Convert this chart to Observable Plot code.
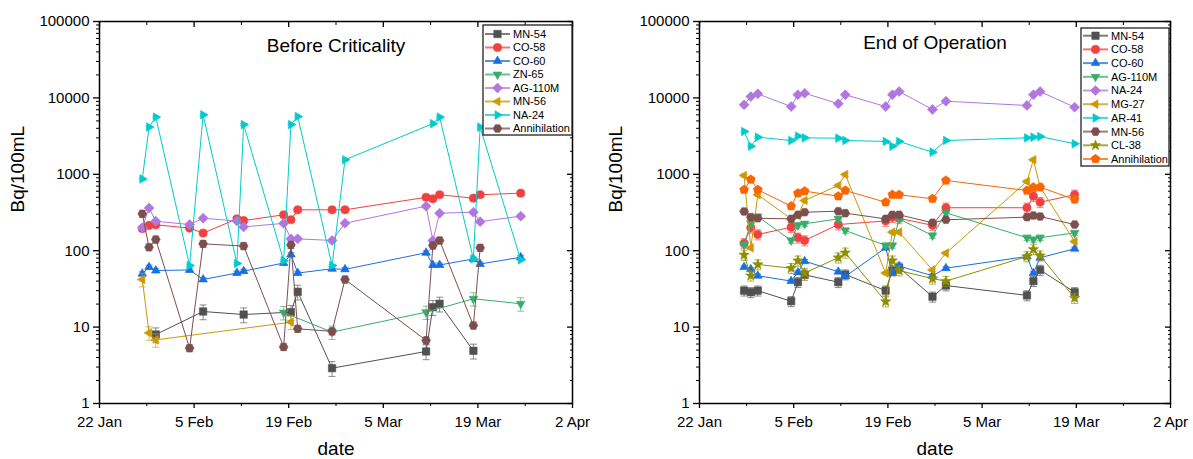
<!DOCTYPE html>
<html><head><meta charset="utf-8">
<script src="https://cdn.jsdelivr.net/npm/d3@7"></script>
<script src="https://cdn.jsdelivr.net/npm/@observablehq/plot@0.6"></script>
<style>
html,body{margin:0;padding:0;background:#fff;}
#wrap{display:flex;width:1193px;height:459px;overflow:hidden;}
svg{font-family:"Liberation Sans",Arial,sans-serif;}
</style></head><body><div id="wrap"></div>
<script>
// ---------- DATA ----------
const xTickDates = ["2019-01-22","2019-02-05","2019-02-19","2019-03-05","2019-03-19","2019-04-02"];
const xMinorDates = ["2019-01-29","2019-02-12","2019-02-26","2019-03-12","2019-03-26"];
const yTickValues = [1,10,100,1000,10000,100000];

// Before Criticality
const bcTitle = "Before Criticality";
const bcDates = ["2019-01-28T08:00Z","2019-01-29T08:00Z","2019-01-30T08:00Z","2019-02-04T08:00Z","2019-02-06T08:00Z","2019-02-11T08:00Z","2019-02-12T08:00Z","2019-02-18T06:00Z","2019-02-19T08:00Z","2019-02-20T08:00Z","2019-02-25T10:00Z","2019-02-27T08:00Z","2019-03-11T08:00Z","2019-03-12T08:00Z","2019-03-13T08:00Z","2019-03-18T08:00Z","2019-03-19T08:00Z","2019-03-25T08:00Z"];
const bcMN54  = [null,null,8.0,null,16,null,14.6,null,15.7,29,2.9,null,4.8,18.2,20.2,4.9,null,null];
const bcCO58  = [194,214,218,198,170,261,248,295,254,343,343,343,500,478,540,487,540,566];
const bcCO60  = [50,61,55,56,42,51,54,69,89,51,58,57,94,65,65,78,67,82];
const bcZN65  = [null,null,null,null,null,null,null,15.5,null,null,8.6,null,15.7,null,null,23.5,null,20.2];
const bcAG110M= [200,363,243,220,266,245,205,228,143,143,136,229,383,136,310,319,240,283];
const bcMN56  = [42,8.4,6.8,null,null,null,null,null,11.6,null,null,null,null,null,null,null,null,null];
const bcNA24  = [870,4150,5600,64,6000,68,4470,74,4470,5710,64,1550,null,4600,5600,78,4140,76];
const bcAnni  = [304,111,140,5.3,123,null,115,5.5,119,9.5,8.8,42,6.7,117,136,10.5,109,null];

// End of Operation
const eoTitle = "End of Operation";
const eoDates = ["2019-01-28T15:00Z","2019-01-29T15:00Z","2019-01-30T16:00Z","2019-02-04T15:00Z","2019-02-05T15:00Z","2019-02-06T15:00Z","2019-02-11T15:00Z","2019-02-12T16:00Z","2019-02-18T16:00Z","2019-02-19T16:00Z","2019-02-20T16:00Z","2019-02-25T15:00Z","2019-02-27T15:00Z","2019-03-11T16:00Z","2019-03-12T15:00Z","2019-03-13T15:00Z","2019-03-18T18:00Z"];
const eoMN54  = [30,28.6,30,21.8,38.7,48.3,38.7,48.8,30,55,60,25,35,26,40,56,28.6];
const eoCO58  = [125,200,163,203,148,136,220,null,245,275,265,215,365,365,517,431,540];
const eoCO60  = [61,57,47,40,52,73,53,46,109,51,63,47,59,84,51,81,106];
const eoAG110M= [121,228,280,136,215,225,261,184,117,117,261,158,313,148,140,148,171];
const eoNA24  = [8130,10400,11300,7700,11000,11500,8400,11000,7700,11000,12100,7050,9050,7950,11000,12100,7550];
const eoMG27  = [964,109,540,261,289,454,713,993,51,175,175,56,93,805,1550,678,132];
const eoAR41  = [3630,2330,3060,2770,3160,3000,2970,2770,2690,2330,2690,1950,2770,3000,3060,3120,2510];
const eoMN56  = [326,275,266,261,295,319,329,310,261,295,295,232,254,275,289,280,220];
const eoCL38  = [88,47,66,59,74,51,81,94,21.6,74,55,43,40,84,104,86,24];
const eoAnni  = [627,855,627,383,566,602,517,613,431,540,540,478,830,613,678,678,468];

// relative uncertainty (error bars) per series
const bcErr = {"MN-54":0.22,"CO-58":0.08,"CO-60":0.06,"ZN-65":0.2,"AG-110M":0.05,"MN-56":0.2,"NA-24":0.03,"Annihilation":0.1};
const eoErr = {"MN-54":0.15,"CO-58":0.15,"CO-60":0.05,"AG-110M":0.08,"NA-24":0.02,"MG-27":0.05,"AR-41":0.03,"MN-56":0.05,"CL-38":0.15,"Annihilation":0.05};

// ---------- SYMBOLS ----------
function poly(n, R, a0){ return {draw(ctx){ for(let k=0;k<n;k++){const a=a0+k*2*Math.PI/n; const x=R*Math.cos(a), y=R*Math.sin(a); k?ctx.lineTo(x,y):ctx.moveTo(x,y);} ctx.closePath(); }}; }
const D = Math.PI/180;
const symSquare = {draw(ctx){ctx.moveTo(-3.7,-3.7);ctx.lineTo(3.7,-3.7);ctx.lineTo(3.7,3.7);ctx.lineTo(-3.7,3.7);ctx.closePath();}};
const symCircle = {draw(ctx){ctx.moveTo(4.1,0);ctx.arc(0,0,4.1,0,2*Math.PI);}};
const symUp = poly(3,5,-90*D), symDown = poly(3,5,90*D), symLeft = poly(3,5,180*D), symRight = poly(3,5,0);
const symDiamond = poly(4,5,0);
const symHex = poly(6,4.4,0);
const symPent = poly(5,4.7,-90*D);
const symStar = {draw(ctx){ for(let k=0;k<10;k++){const R=k%2?2.3:5.4; const a=-90*D+k*36*D; const x=R*Math.cos(a),y=R*Math.sin(a); k?ctx.lineTo(x,y):ctx.moveTo(x,y);} ctx.closePath(); }};
const symCap = {draw(ctx){ctx.moveTo(-3.5,0);ctx.lineTo(3.5,0);}};

const C = ["#515151","#F14040","#1A6FDF","#37AD6B","#B177DE","#CC9900","#00CBCC","#7D4E4E","#8E8E00","#FB6501"];

const bcSeries = [
  {name:"MN-54", values:bcMN54, color:C[0], symbol:symSquare},
  {name:"CO-58", values:bcCO58, color:C[1], symbol:symCircle},
  {name:"CO-60", values:bcCO60, color:C[2], symbol:symUp},
  {name:"ZN-65", values:bcZN65, color:C[3], symbol:symDown},
  {name:"AG-110M", values:bcAG110M, color:C[4], symbol:symDiamond},
  {name:"MN-56", values:bcMN56, color:C[5], symbol:symLeft},
  {name:"NA-24", values:bcNA24, color:C[6], symbol:symRight},
  {name:"Annihilation", values:bcAnni, color:C[7], symbol:symHex}
];
const eoSeries = [
  {name:"MN-54", values:eoMN54, color:C[0], symbol:symSquare},
  {name:"CO-58", values:eoCO58, color:C[1], symbol:symCircle},
  {name:"CO-60", values:eoCO60, color:C[2], symbol:symUp},
  {name:"AG-110M", values:eoAG110M, color:C[3], symbol:symDown},
  {name:"NA-24", values:eoNA24, color:C[4], symbol:symDiamond},
  {name:"MG-27", values:eoMG27, color:C[5], symbol:symLeft},
  {name:"AR-41", values:eoAR41, color:C[6], symbol:symRight},
  {name:"MN-56", values:eoMN56, color:C[7], symbol:symHex},
  {name:"CL-38", values:eoCL38, color:C[8], symbol:symStar},
  {name:"Annihilation", values:eoAnni, color:C[9], symbol:symPent}
];

// ---------- PANEL ----------
function panel(cfg){
  const dates = cfg.dates.map(d=>new Date(d));
  const marks = [];
  for(const s of cfg.series){
    const e = cfg.err[s.name];
    const d = [];
    s.values.forEach((v,i)=>{ if(v!=null) d.push({date:dates[i], v, lo:v*(1-e), hi:v*(1+e)}); });
    marks.push(Plot.line(d,{x:"date",y:"v",stroke:s.color,strokeWidth:1}));
    marks.push(Plot.link(d,{x1:"date",x2:"date",y1:"lo",y2:"hi",stroke:s.color,strokeOpacity:0.65,strokeWidth:1}));
    marks.push(Plot.dot(d,{x:"date",y:"lo",symbol:symCap,stroke:s.color,strokeOpacity:0.65,strokeWidth:1,r:3}));
    marks.push(Plot.dot(d,{x:"date",y:"hi",symbol:symCap,stroke:s.color,strokeOpacity:0.65,strokeWidth:1,r:3}));
    marks.push(Plot.dot(d,{x:"date",y:"v",symbol:s.symbol,fill:s.color,stroke:s.color,strokeWidth:0.6,r:4}));
  }
  const xt = xTickDates.map(d=>new Date(d)), xm = xMinorDates.map(d=>new Date(d));
  const ym = []; for(let p=1;p<100000;p*=10) for(let k=2;k<=9;k++) ym.push(p*k);
  const fmt = d3.utcFormat("%-d %b");
  const svg = Plot.plot({
    width: cfg.width, height: 459,
    marginLeft: cfg.ml, marginRight: cfg.mr, marginTop: 21, marginBottom: 56,
    style: {fontSize:"15px", fontFamily:'"Liberation Sans", Arial, sans-serif', background:"white", color:"black"},
    x: {type:"utc", domain:[new Date("2019-01-22"), new Date("2019-04-02")], axis:null, label:null},
    y: {type:"log", domain:[1,100000], axis:null, label:null},
    marks: [
      ...marks,
      Plot.frame({stroke:"black", strokeWidth:1.5}),
      Plot.axisX({ticks:xt, tickFormat:fmt, tickSize:5, tickPadding:8, label:null, anchor:"bottom", strokeWidth:1.3}),
      Plot.axisX({ticks:xm, tickFormat:()=>"", tickSize:3, label:null, anchor:"bottom"}),
      Plot.axisX({ticks:xt, tickFormat:()=>"", tickSize:-5, label:null, anchor:"top", strokeWidth:1.3}),
      Plot.axisX({ticks:xm, tickFormat:()=>"", tickSize:-3, label:null, anchor:"top"}),
      Plot.axisY({ticks:yTickValues, tickFormat:d=>String(d), tickSize:6, tickPadding:4, label:null, anchor:"left", strokeWidth:1.3}),
      Plot.axisY({ticks:ym, tickFormat:()=>"", tickSize:3, label:null, anchor:"left"}),
      Plot.axisY({ticks:yTickValues, tickFormat:()=>"", tickSize:-6, label:null, anchor:"right", strokeWidth:1.3}),
      Plot.axisY({ticks:ym, tickFormat:()=>"", tickSize:-3, label:null, anchor:"right"}),
      Plot.text([cfg.title],{frameAnchor:"top", dy:cfg.titleDy, fontSize:19, fill:"black"}),
      Plot.text(["date"],{frameAnchor:"bottom", dy:51, fontSize:19, fill:"black"}),
      Plot.text(["Bq/100mL"],{frameAnchor:"left", dx:cfg.ylabDx, rotate:-90, fontSize:19, fill:"black"})
    ]
  });
  // legend
  const L = cfg.legend;
  const g = d3.select(svg).append("g").attr("font-size",11).attr("text-anchor","start").attr("font-family",'"Liberation Sans", Arial, sans-serif');
  g.append("rect").attr("x",L.x).attr("y",L.y).attr("width",L.w).attr("height",L.h).attr("fill","white").attr("stroke","#222").attr("stroke-width",1.3);
  cfg.series.forEach((s,i)=>{
    const yy = L.y0 + i*L.dy;
    g.append("line").attr("x1",L.x+2).attr("x2",L.x+27).attr("y1",yy).attr("y2",yy).attr("stroke",s.color).attr("stroke-width",2).attr("stroke-opacity",0.75);
    const p = d3.path(); s.symbol.draw(p);
    g.append("path").attr("d",p.toString()).attr("transform",`translate(${L.x+14.5},${yy})`).attr("fill",s.color).attr("stroke",s.color).attr("stroke-width",0.6);
    g.append("text").attr("x",L.x+30).attr("y",yy).attr("dy","0.36em").attr("text-anchor","start").attr("fill","black").text(s.name);
  });
  return svg;
}

const wrap = document.getElementById("wrap");
wrap.appendChild(panel({title:bcTitle, dates:bcDates, series:bcSeries, err:bcErr, width:597, ml:99, mr:25, titleDy:17, ylabDx:-82,
  legend:{x:483,y:25,w:89,h:110,y0:34,dy:13.5}}));
wrap.appendChild(panel({title:eoTitle, dates:eoDates, series:eoSeries, err:eoErr, width:596, ml:102, mr:23, titleDy:14, ylabDx:-84,
  legend:{x:484,y:28,w:88,h:138,y0:35.7,dy:13.7}}));
</script>
</body></html>
